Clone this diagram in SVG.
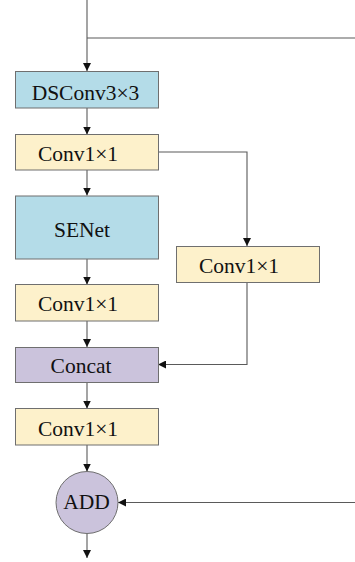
<svg xmlns="http://www.w3.org/2000/svg" width="355" height="562" viewBox="0 0 355 562">
  <style>
    .blue { fill: #b4dce8; stroke: #6f6f6f; stroke-width: 1; }
    .yellow { fill: #fdf1cb; stroke: #6f6f6f; stroke-width: 1; }
    .purple { fill: #cbc3dc; stroke: #6f6f6f; stroke-width: 1; }
    .label { font-family: "Liberation Serif", "Times New Roman", serif; font-size: 21.5px; fill: #111; text-anchor: middle; }
    .wire { fill: none; stroke: #5a5a5a; stroke-width: 1.1; }
  </style>
  <defs>
    <marker id="arrow" viewBox="0 0 10 10" refX="10" refY="5" markerWidth="8" markerHeight="8" markerUnits="userSpaceOnUse" orient="auto">
      <path d="M0,0 L10,5 L0,10 z" fill="#111"/>
    </marker>
  </defs>

  <g id="connectors">
    <path class="wire" d="M87,0 V71" marker-end="url(#arrow)"/>
    <path class="wire" d="M87,38 H355"/>
    <path class="wire" d="M87,108 V134.5" marker-end="url(#arrow)"/>
    <path class="wire" d="M87,170 V195.5" marker-end="url(#arrow)"/>
    <path class="wire" d="M158,152 H247 V246" marker-end="url(#arrow)"/>
    <path class="wire" d="M87,259 V284.5" marker-end="url(#arrow)"/>
    <path class="wire" d="M87,321 V347" marker-end="url(#arrow)"/>
    <path class="wire" d="M247,282 V364.5 H158" marker-end="url(#arrow)"/>
    <path class="wire" d="M87,382.5 V408.5" marker-end="url(#arrow)"/>
    <path class="wire" d="M87,445 V471.5" marker-end="url(#arrow)"/>
    <path class="wire" d="M355,502.5 H118" marker-end="url(#arrow)"/>
    <path class="wire" d="M87,533.5 V558" marker-end="url(#arrow)"/>
  </g>

  <g id="dsconv">
    <rect class="blue" x="15.5" y="71.5" width="143" height="36.5"/>
    <text class="label" x="85.5" y="100">DSConv3×3</text>
  </g>
  <g id="conv-a">
    <rect class="yellow" x="15.5" y="134.5" width="143" height="35.5"/>
    <text class="label" x="78" y="160.5">Conv1×1</text>
  </g>
  <g id="senet">
    <rect class="blue" x="15.5" y="196" width="143" height="63"/>
    <text class="label" x="82" y="236.5">SENet</text>
  </g>
  <g id="conv-side">
    <rect class="yellow" x="176.5" y="246.5" width="143" height="36"/>
    <text class="label" x="239" y="273">Conv1×1</text>
  </g>
  <g id="conv-b">
    <rect class="yellow" x="15.5" y="284.5" width="143" height="36.5"/>
    <text class="label" x="78" y="311">Conv1×1</text>
  </g>
  <g id="concat">
    <rect class="purple" x="15.5" y="347.5" width="143" height="35"/>
    <text class="label" x="81" y="373">Concat</text>
  </g>
  <g id="conv-c">
    <rect class="yellow" x="15.5" y="408.5" width="143" height="36.5"/>
    <text class="label" x="78" y="436">Conv1×1</text>
  </g>
  <g id="add">
    <circle class="purple" cx="87" cy="502.5" r="31"/>
    <text class="label" x="86.5" y="508.5">ADD</text>
  </g>
</svg>
